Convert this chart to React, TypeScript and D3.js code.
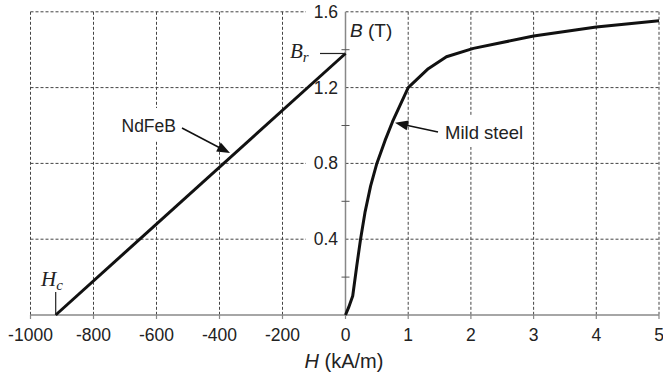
import React from "react";
import * as d3 from "d3";

const W = 663;
const H = 377;

const xTicksLeft = [-1000, -800, -600, -400, -200];
const xTicksRight = [0, 1, 2, 3, 4, 5];
const yMajor = [0.4, 0.8, 1.2, 1.6];
const yMinor = [0.2, 0.6, 1.0, 1.4];

const ndfebH = [-920, 0];
const ndfebB = [0, 1.38];

const steelH = [0, 0.05, 0.115, 0.18, 0.24, 0.31, 0.4, 0.5, 0.63, 0.75, 1.0, 1.32, 1.61, 2.04, 3.0, 4.0, 5.0];
const steelB = [0, 0.04, 0.1, 0.26, 0.4, 0.54, 0.68, 0.8, 0.92, 1.02, 1.2, 1.3, 1.363, 1.407, 1.472, 1.52, 1.553];

const xL = d3.scaleLinear().domain([-1000, 0]).range([30.5, 345.5]);
const xR = d3.scaleLinear().domain([0, 5]).range([345.5, 659]);
const y = d3.scaleLinear().domain([0, 1.6]).range([315, 11.8]);

const sans = "'Liberation Sans', Arial, sans-serif";
const serif = "'Liberation Serif', 'Times New Roman', serif";

export default function App() {
  const x0 = xL(0);
  const left = xL(-1000);
  const right = xR(5);
  const y0 = y(0);

  const ndLine = d3
    .line<number>()
    .x((_, i) => xL(ndfebH[i]))
    .y((_, i) => y(ndfebB[i]))(ndfebH);
  const stLine = d3
    .line<number>()
    .x((_, i) => xR(steelH[i]))
    .y((_, i) => y(steelB[i]))(steelH);

  const grid = "#444";
  const axisC = "#888";

  const arrowHead = (x1: number, y1: number, x2: number, y2: number) => {
    const a = Math.atan2(y2 - y1, x2 - x1);
    const L = 13;
    const w = 5;
    const bx = x2 - L * Math.cos(a);
    const by = y2 - L * Math.sin(a);
    const px = -Math.sin(a) * w;
    const py = Math.cos(a) * w;
    return `M${x2},${y2}L${bx + px},${by + py}L${bx - px},${by - py}Z`;
  };

  return (
    <div style={{ position: "absolute", left: 0, top: 0 }}>
      <svg width={W} height={H} style={{ display: "block", background: "#fff" }}>
        {/* grid */}
        {yMajor.map((v) => (
          <line key={"hg" + v} x1={left} x2={right} y1={y(v)} y2={y(v)} stroke={grid} strokeWidth={1} strokeDasharray="3,2" />
        ))}
        {xTicksLeft.map((v) => (
          <line key={"vgl" + v} x1={xL(v)} x2={xL(v)} y1={y(1.6)} y2={y0} stroke={grid} strokeWidth={1} strokeDasharray="3,2" />
        ))}
        {xTicksRight.filter((v) => v > 0).map((v) => (
          <line key={"vgr" + v} x1={xR(v)} x2={xR(v)} y1={y(1.6)} y2={y0} stroke={grid} strokeWidth={1} strokeDasharray="3,2" />
        ))}
        {/* label backgrounds */}
        {yMajor.map((v) => (
          <rect key={"yb" + v} x={306} y={y(v) - 9} width={x0 - 306} height={18} fill="#fff" />
        ))}
        <rect x={118} y={108} width={62} height={32} fill="#fff" />
        <rect x={441} y={115} width={86} height={32} fill="#fff" />

        {/* axes */}
        <line x1={left} x2={right} y1={y0} y2={y0} stroke={axisC} strokeWidth={1.5} />
        <line x1={x0} x2={x0} y1={y(1.6)} y2={y0} stroke={axisC} strokeWidth={1.5} />
        {xTicksLeft.map((v) => (
          <line key={"tl" + v} x1={xL(v)} x2={xL(v)} y1={y0} y2={y0 + 4} stroke={axisC} strokeWidth={1.2} />
        ))}
        {xTicksRight.map((v) => (
          <line key={"tr" + v} x1={xR(v)} x2={xR(v)} y1={y0} y2={y0 + 4} stroke={axisC} strokeWidth={1.2} />
        ))}
        {yMinor.map((v) => (
          <line key={"ym" + v} x1={x0 - 4} x2={x0 + 4} y1={y(v)} y2={y(v)} stroke="#555" strokeWidth={1} />
        ))}

        {/* tick labels */}
        {xTicksLeft.map((v) => (
          <text key={"xl" + v} x={xL(v)} y={341} textAnchor="middle" fontFamily={sans} fontSize={17.5} fill="#222">
            {v}
          </text>
        ))}
        {xTicksRight.map((v) => (
          <text key={"xr" + v} x={xR(v)} y={341} textAnchor="middle" fontFamily={sans} fontSize={17.5} fill="#222">
            {v}
          </text>
        ))}
        {yMajor.map((v) => (
          <text key={"yl" + v} x={338} y={y(v) + 6} textAnchor="end" fontFamily={sans} fontSize={17.5} fill="#222">
            {v.toFixed(1)}
          </text>
        ))}

        {/* axis titles */}
        <text x={344} y={368} textAnchor="middle" fontFamily={sans} fontSize={20} fill="#222">
          <tspan fontStyle="italic">H</tspan> (kA/m)
        </text>
        <text x={350} y={37} fontFamily={sans} fontSize={19} fill="#222">
          <tspan fontStyle="italic">B</tspan> (T)
        </text>

        {/* curves */}
        <path d={ndLine || ""} fill="none" stroke="#111" strokeWidth={3} />
        <path d={stLine || ""} fill="none" stroke="#111" strokeWidth={3} strokeLinejoin="round" />

        {/* Br marker */}
        <line x1={320} x2={x0} y1={y(1.38)} y2={y(1.38)} stroke="#222" strokeWidth={1.2} />
        <text x={290} y={58} fontFamily={serif} fontStyle="italic" fontSize={21} fill="#222">
          B<tspan fontSize={15} dy={4}>r</tspan>
        </text>
        {/* Hc marker */}
        <line x1={xL(-920)} x2={xL(-920)} y1={292} y2={y0} stroke="#222" strokeWidth={1.2} />
        <text x={41} y={286} fontFamily={serif} fontStyle="italic" fontSize={21} fill="#222">
          H<tspan fontSize={15} dy={4}>c</tspan>
        </text>

        {/* annotations */}
        <text x={121.5} y={131.5} fontFamily={sans} fontSize={17.5} fill="#222">NdFeB</text>
        <line x1={182} y1={128} x2={222} y2={149} stroke="#111" strokeWidth={1.5} />
        <path d={arrowHead(182, 128, 230, 153)} fill="#111" />

        <text x={445} y={139} fontFamily={sans} fontSize={18.5} fill="#222">Mild steel</text>
        <line x1={438} y1={132} x2={403} y2={124.5} stroke="#111" strokeWidth={1.5} />
        <path d={arrowHead(438, 132, 395, 122.7)} fill="#111" />
      </svg>
    </div>
  );
}
